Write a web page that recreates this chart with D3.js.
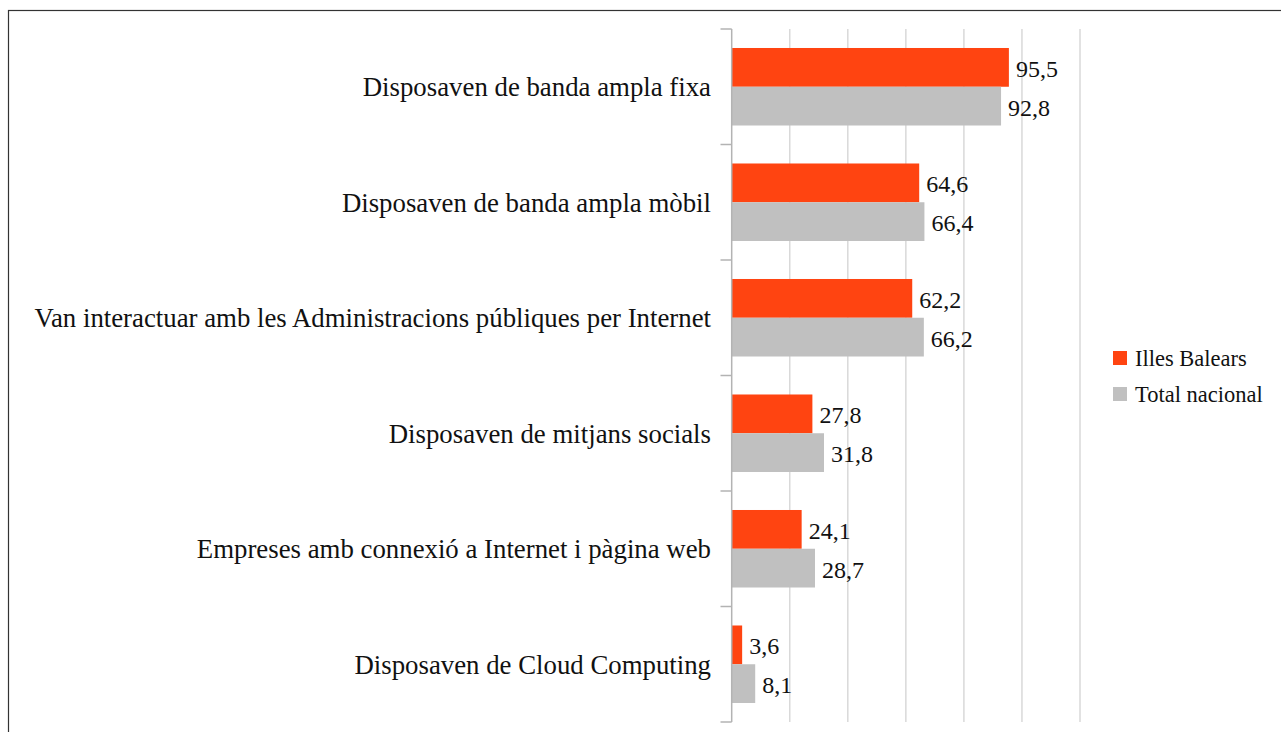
<!DOCTYPE html>
<html>
<head>
<meta charset="utf-8">
<script src="https://cdn.jsdelivr.net/npm/d3@7"></script>
<style>
  body { margin: 0; background: #fff; }
  svg { display: block; font-family: "Liberation Serif", "DejaVu Serif", serif; }
</style>
</head>
<body>
<svg id="chart" width="1281" height="732"></svg>
<script>
// categories, top to bottom
var categories = [
  "Disposaven de banda ampla fixa",
  "Disposaven de banda ampla mòbil",
  "Van interactuar amb les Administracions públiques per Internet",
  "Disposaven de mitjans socials",
  "Empreses amb connexió a Internet i pàgina web",
  "Disposaven de Cloud Computing"
];
var seriesNames = ["Illes Balears", "Total nacional"];
var illesBalears = [95.5, 64.6, 62.2, 27.8, 24.1, 3.6];
var totalNacional = [92.8, 66.4, 66.2, 31.8, 28.7, 8.1];
var gridTicks = [0, 20, 40, 60, 80, 100, 120];
var colors = ["#ff4411", "#c0c0c0"];

var svg = d3.select("#chart");

// outer frame (runs off the right and bottom edge)
svg.append("rect")
  .attr("x", 8.5).attr("y", 10.5)
  .attr("width", 1300).attr("height", 760)
  .attr("fill", "none").attr("stroke", "#333").attr("stroke-width", 1.2);

var x = d3.scaleLinear().domain([0, 120]).range([731.7, 1080]);
var y = d3.scaleBand().domain(categories).range([29, 722]).paddingInner(0).paddingOuter(0);
var yInner = d3.scaleBand().domain(seriesNames).range([0, y.bandwidth()]).paddingOuter(0.49).paddingInner(0);

// gridlines
svg.append("g").selectAll("line")
  .data(gridTicks.slice(1))
  .join("line")
  .attr("x1", d => x(d)).attr("x2", d => x(d))
  .attr("y1", 29).attr("y2", 722)
  .attr("stroke", "#d9d9d9").attr("stroke-width", 1.5);

// bars
var data = [];
categories.forEach(function(c, i) {
  data.push({cat: c, serie: seriesNames[0], value: illesBalears[i], color: colors[0]});
  data.push({cat: c, serie: seriesNames[1], value: totalNacional[i], color: colors[1]});
});

svg.append("g").selectAll("rect")
  .data(data)
  .join("rect")
  .attr("x", x(0))
  .attr("y", d => y(d.cat) + yInner(d.serie))
  .attr("width", d => x(d.value) - x(0))
  .attr("height", yInner.bandwidth())
  .attr("fill", d => d.color);

// value labels
svg.append("g").selectAll("text")
  .data(data)
  .join("text")
  .attr("x", d => x(d.value) + 7)
  .attr("y", d => y(d.cat) + yInner(d.serie) + yInner.bandwidth() / 2 + 1)
  .attr("dy", "0.35em")
  .attr("font-size", 24)
  .attr("fill", "#111")
  .text(d => String(d.value).replace(".", ","));

// y axis line + ticks
var axis = svg.append("g");
axis.append("line")
  .attr("x1", x(0)).attr("x2", x(0))
  .attr("y1", 29).attr("y2", 722)
  .attr("stroke", "#b3b3b3").attr("stroke-width", 1.5);
var tickYs = categories.map(c => y(c)).concat([y.range()[1]]);
axis.selectAll("line.tick")
  .data(tickYs)
  .join("line")
  .attr("class", "tick")
  .attr("x1", 720.5).attr("x2", x(0))
  .attr("y1", d => d).attr("y2", d => d)
  .attr("stroke", "#b3b3b3").attr("stroke-width", 1.5);

// category labels
svg.append("g").selectAll("text")
  .data(categories)
  .join("text")
  .attr("x", 711)
  .attr("y", d => y(d) + y.bandwidth() / 2)
  .attr("dy", "0.35em")
  .attr("text-anchor", "end")
  .attr("font-size", 26.8)
  .attr("fill", "#111")
  .text(d => d);

// legend
var legend = svg.append("g").selectAll("g")
  .data(seriesNames)
  .join("g")
  .attr("transform", (d, i) => "translate(1113," + (351 + i * 36) + ")");
legend.append("rect")
  .attr("width", 14).attr("height", 14)
  .attr("fill", (d, i) => colors[i]);
legend.append("text")
  .attr("x", 22).attr("y", 7)
  .attr("dy", "0.35em")
  .attr("font-size", 22.5)
  .attr("fill", "#111")
  .text(d => d);
</script>
</body>
</html>
